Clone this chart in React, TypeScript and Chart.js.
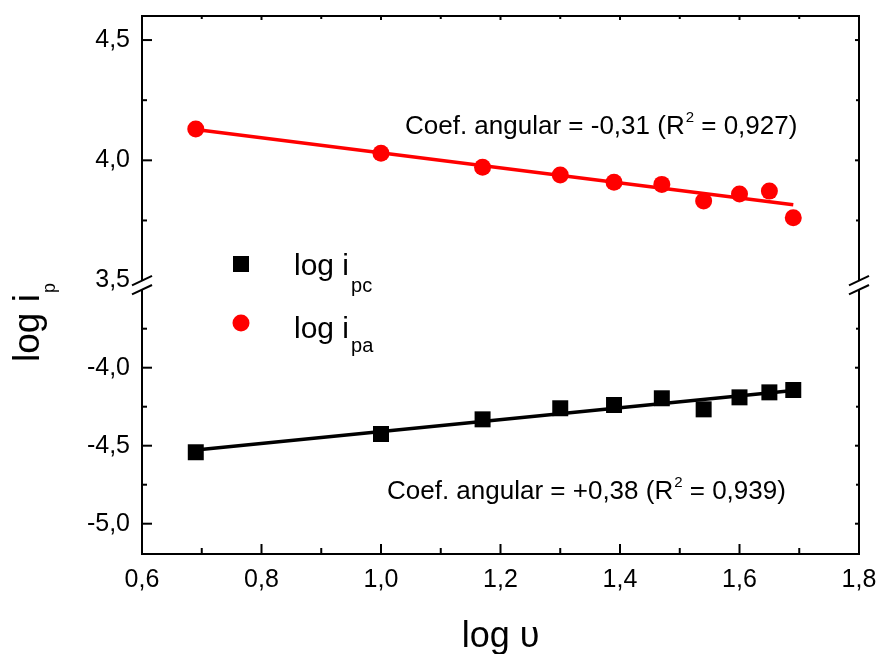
import React, { useEffect, useRef } from 'react';
import { Chart, registerables } from 'chart.js';

Chart.register(...registerables);

// ---- data ----
const logV = [0.69, 1.0, 1.17, 1.3, 1.39, 1.47, 1.54, 1.6, 1.65, 1.69];
const logIpa = [4.13, 4.029, 3.971, 3.939, 3.909, 3.9, 3.831, 3.86, 3.872, 3.761];
const logIpc = [-4.542, -4.425, -4.331, -4.26, -4.239, -4.196, -4.267, -4.19, -4.158, -4.143];
const fitX = [0.69, 1.69];
const fitIpa = [4.128, 3.815];
const fitIpc = [-4.527, -4.146];

const xTicks = [0.6, 0.8, 1.0, 1.2, 1.4, 1.6, 1.8];
const xMinor = [0.7, 0.9, 1.1, 1.3, 1.5, 1.7];
const yTopTicks = [3.5, 4.0, 4.5];
const yTopMinor = [3.75, 4.25];
const yBotTicks = [-5.0, -4.5, -4.0];
const yBotMinor = [-4.75, -4.25, -3.75];
const breakTop = 3.5;
const breakBot = -3.5;

const legendMain = ['log i', 'log i'];
const legendSub = ['pc', 'pa'];
const annotTop = ['Coef. angular = -0,31 (R', '2', ' = 0,927)'];
const annotBot = ['Coef. angular = +0,38 (R', '2', ' = 0,939)'];
const xTitle = 'log \u03C5';
const yTitle = 'log i';
const yTitleSub = 'p';

const FONT = "'Liberation Sans', Arial, sans-serif";
const fmt = (v: number) => v.toFixed(1).replace('.', ',');

const zeroPad = (s: any) => {
  s.paddingTop = 0;
  s.paddingBottom = 0;
  s.paddingLeft = 0;
  s.paddingRight = 0;
};

const framePlugin = {
  id: 'frame',
  afterDraw(chart: any) {
    const ctx: CanvasRenderingContext2D = chart.ctx;
    const xs = chart.scales.x;
    const yt = chart.scales.yTop;
    const yb = chart.scales.yBot;
    const { left: L, right: R, top: T, bottom: B } = chart.chartArea;
    const bT = yt.getPixelForValue(breakTop);
    const bB = yb.getPixelForValue(breakBot);
    const line = (x1: number, y1: number, x2: number, y2: number) => {
      ctx.beginPath();
      ctx.moveTo(x1, y1);
      ctx.lineTo(x2, y2);
      ctx.stroke();
    };
    ctx.save();
    ctx.strokeStyle = '#000';
    ctx.lineWidth = 2;
    ctx.lineCap = 'square';
    line(L, T, R, T);
    line(L, B, R, B);
    ctx.lineCap = 'butt';
    line(L, T, L, bT);
    line(L, bB, L, B);
    line(R, T, R, bT);
    line(R, bB, R, B);
    // x ticks
    xTicks.forEach((v) => {
      const p = xs.getPixelForValue(v);
      line(p, B, p, B - 10);
      line(p, T, p, T + 4);
    });
    xMinor.forEach((v) => {
      const p = xs.getPixelForValue(v);
      line(p, B, p, B - 6);
      line(p, T, p, T + 3);
    });
    // y ticks
    const yMaj = [
      ...yTopTicks.filter((v) => v !== breakTop).map((v) => yt.getPixelForValue(v)),
      ...yBotTicks.map((v) => yb.getPixelForValue(v)),
    ];
    const yMin = [
      ...yTopMinor.map((v) => yt.getPixelForValue(v)),
      ...yBotMinor.map((v) => yb.getPixelForValue(v)),
    ];
    yMaj.forEach((p) => {
      line(L, p, L + 10, p);
      line(R, p, R - 4, p);
    });
    yMin.forEach((p) => {
      line(L, p, L + 5, p);
      line(R, p, R - 3, p);
    });
    // break marks
    [L, R].forEach((X) => {
      line(X - 10, bT + 4.7, X + 10, bT - 4.7);
      line(X - 10, bB + 4.7, X + 10, bB - 4.7);
    });

    ctx.fillStyle = '#000';
    ctx.textBaseline = 'alphabetic';
    ctx.textAlign = 'left';
    // legend
    ctx.fillStyle = '#000';
    ctx.fillRect(241 - 8, 264 - 8, 16, 16);
    ctx.fillStyle = '#ff0000';
    ctx.beginPath();
    ctx.arc(241, 323, 8.5, 0, Math.PI * 2);
    ctx.fill();
    ctx.fillStyle = '#000';
    const legBase = [275, 338];
    const subBase = [291.7, 351.7];
    legendMain.forEach((t, i) => {
      ctx.font = `30px ${FONT}`;
      ctx.fillText(t, 294, legBase[i]);
      const w = ctx.measureText(t).width;
      ctx.font = `20px ${FONT}`;
      ctx.fillText(legendSub[i], 294 + w + 2, subBase[i]);
    });

    // annotations
    const drawAnnot = (parts: string[], x: number, y: number) => {
      ctx.font = `26px ${FONT}`;
      ctx.fillText(parts[0], x, y);
      let cx = x + ctx.measureText(parts[0]).width + 1;
      ctx.font = `15px ${FONT}`;
      ctx.fillText(parts[1], cx, y - 12);
      cx += ctx.measureText(parts[1]).width;
      ctx.font = `26px ${FONT}`;
      ctx.fillText(parts[2], cx, y);
    };
    drawAnnot(annotTop, 405, 133.5);
    drawAnnot(annotBot, 387, 498.5);

    // axis titles
    ctx.font = `36px ${FONT}`;
    ctx.textAlign = 'center';
    ctx.fillText(xTitle, (L + R) / 2, 646.5);
    ctx.textAlign = 'left';
    ctx.save();
    ctx.translate(38.5, 362);
    ctx.rotate(-Math.PI / 2);
    ctx.font = `37px ${FONT}`;
    ctx.fillText(yTitle, 0, 0);
    const tw = ctx.measureText(yTitle).width;
    ctx.font = `18px ${FONT}`;
    ctx.fillText(yTitleSub, tw + 1, 16);
    ctx.restore();

    ctx.restore();
  },
};

export default function App() {
  const ref = useRef<HTMLCanvasElement>(null);
  useEffect(() => {
    const tickFont = { family: FONT, size: 25 };
    const chart = new Chart(ref.current as HTMLCanvasElement, {
      type: 'scatter',
      data: {
        datasets: [
          {
            label: 'log ipc',
            data: logV.map((x, i) => ({ x, y: logIpc[i] })),
            yAxisID: 'yBot',
            pointStyle: 'rect',
            pointRadius: 11.3,
            backgroundColor: '#000',
            borderColor: '#000',
            borderWidth: 0,
            showLine: false,
          },
          {
            label: 'log ipa',
            data: logV.map((x, i) => ({ x, y: logIpa[i] })),
            yAxisID: 'yTop',
            pointStyle: 'circle',
            pointRadius: 8.5,
            backgroundColor: '#ff0000',
            borderColor: '#ff0000',
            borderWidth: 0,
            showLine: false,
          },
          {
            label: 'fit ipc',
            data: fitX.map((x, i) => ({ x, y: fitIpc[i] })),
            yAxisID: 'yBot',
            showLine: true,
            borderColor: '#000',
            borderWidth: 3.5,
            pointRadius: 0,
          },
          {
            label: 'fit ipa',
            data: fitX.map((x, i) => ({ x, y: fitIpa[i] })),
            yAxisID: 'yTop',
            showLine: true,
            borderColor: '#ff0000',
            borderWidth: 3.5,
            pointRadius: 0,
          },
        ],
      },
      options: {
        responsive: false,
        animation: false,
        devicePixelRatio: 1,
        layout: { padding: { left: 0, top: 16, right: 21, bottom: 0 } },
        plugins: { legend: { display: false }, tooltip: { enabled: false } },
        scales: {
          x: {
            type: 'linear',
            position: 'bottom',
            min: 0.6,
            max: 1.8,
            grid: { display: false, drawTicks: false },
            border: { display: false },
            ticks: { font: tickFont, color: '#000', padding: 11, autoSkip: false, maxRotation: 0, callback: (v: any) => fmt(Number(v)) },
            afterBuildTicks: (s: any) => { s.ticks = xTicks.map((v) => ({ value: v })); },
            afterFit: (s: any) => { s.height = 100; zeroPad(s); },
          },
          yBot: {
            type: 'linear',
            position: 'left',
            stack: 'ys',
            stackWeight: 1,
            min: -5.1942,
            max: -3.4699,
            grid: { display: false, drawTicks: false },
            border: { display: false },
            ticks: { font: tickFont, color: '#000', padding: 12, autoSkip: false, callback: (v: any) => fmt(Number(v)) },
            afterBuildTicks: (s: any) => { s.ticks = yBotTicks.map((v) => ({ value: v })); },
            afterFit: (s: any) => { s.width = 142; zeroPad(s); },
          },
          yTop: {
            type: 'linear',
            position: 'left',
            stack: 'ys',
            stackWeight: 1,
            min: 3.4817,
            max: 4.6,
            grid: { display: false, drawTicks: false },
            border: { display: false },
            ticks: { font: tickFont, color: '#000', padding: 12, autoSkip: false, callback: (v: any) => fmt(Number(v)) },
            afterBuildTicks: (s: any) => { s.ticks = yTopTicks.map((v) => ({ value: v })); },
            afterFit: (s: any) => { s.width = 142; zeroPad(s); },
          },
        },
      } as any,
      plugins: [framePlugin],
    });
    return () => chart.destroy();
  }, []);
  return (
    <div style={{ position: 'fixed', left: 0, top: 0, width: 880, height: 654, background: '#fff' }}>
      <canvas ref={ref} width={880} height={654} style={{ display: 'block', width: 880, height: 654 }} />
    </div>
  );
}
